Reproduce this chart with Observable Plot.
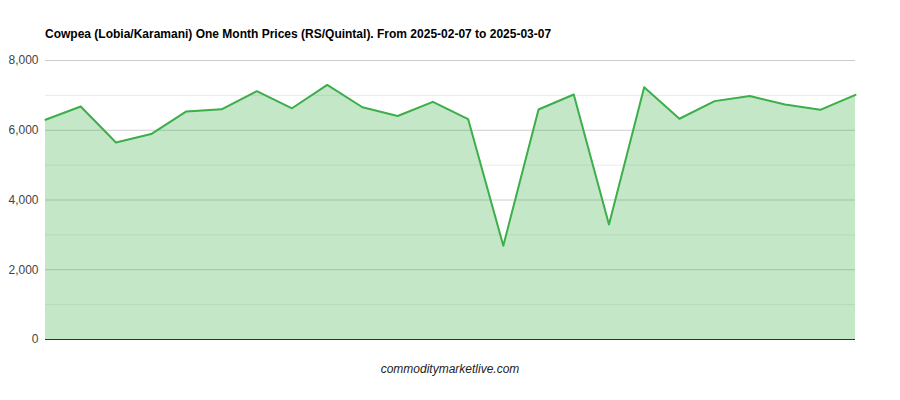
<!DOCTYPE html>
<html>
<head>
<meta charset="utf-8">
<script src="https://cdn.jsdelivr.net/npm/d3@7"></script>
<script src="https://cdn.jsdelivr.net/npm/@observablehq/plot@0.6"></script>
<style>
  html, body { margin: 0; padding: 0; background: #fff; }
  #wrap { position: relative; width: 900px; height: 400px; font-family: "Liberation Sans", Arial, sans-serif; }
  #title { position: absolute; left: 45px; top: 27px; font-size: 12px; font-weight: bold; color: #000; white-space: nowrap; }
  #caption { position: absolute; left: 0; width: 900px; top: 362px; text-align: center; font-size: 12px; font-style: italic; color: #222; }
  #chart { position: absolute; left: 0; top: 0; }
</style>
</head>
<body>
<div id="wrap">
  <div id="chart"></div>
  <div id="title">Cowpea (Lobia/Karamani) One Month Prices (RS/Quintal). From 2025-02-07 to 2025-03-07</div>
  <div id="caption">commoditymarketlive.com</div>
</div>
<script>
const prices = [6300, 6680, 5650, 5890, 6540, 6600, 7120, 6630, 7300, 6660, 6410, 6815,
                6320, 2690, 6595, 7025, 3300, 7235, 6330, 6835, 6980, 6740, 6585, 7015];
const majorTicks = [0, 2000, 4000, 6000, 8000];
const minorTicks = [1000, 3000, 5000, 7000];

const data = prices.map((p, i) => ({i, p}));

const chart = Plot.plot({
  width: 900,
  height: 400,
  marginTop: 60,
  marginBottom: 61,
  marginLeft: 45,
  marginRight: 45,
  style: {fontFamily: '"Liberation Sans", Arial, sans-serif', fontSize: "12px", background: "transparent"},
  x: {type: "linear", domain: [0, prices.length - 1], axis: null},
  y: {domain: [0, 8000], axis: null},
  marks: [
    Plot.ruleY(minorTicks, {stroke: "#ebebeb", strokeWidth: 1}),
    Plot.ruleY(majorTicks.filter(d => d > 0), {stroke: "#cccccc", strokeWidth: 1}),
    Plot.areaY(data, {x: "i", y: "p", fill: "#3cae4a", fillOpacity: 0.3}),
    Plot.lineY(data, {x: "i", y: "p", stroke: "#3cae4a", strokeWidth: 2}),
    Plot.ruleY([0], {stroke: "#333333", strokeWidth: 1}),
    Plot.axisY(majorTicks, {label: null, tickSize: 0, tickPadding: 7, tickFormat: d3.format(","), color: "#444", fontSize: 12})
  ]
});
document.getElementById("chart").appendChild(chart);
</script>
</body>
</html>
